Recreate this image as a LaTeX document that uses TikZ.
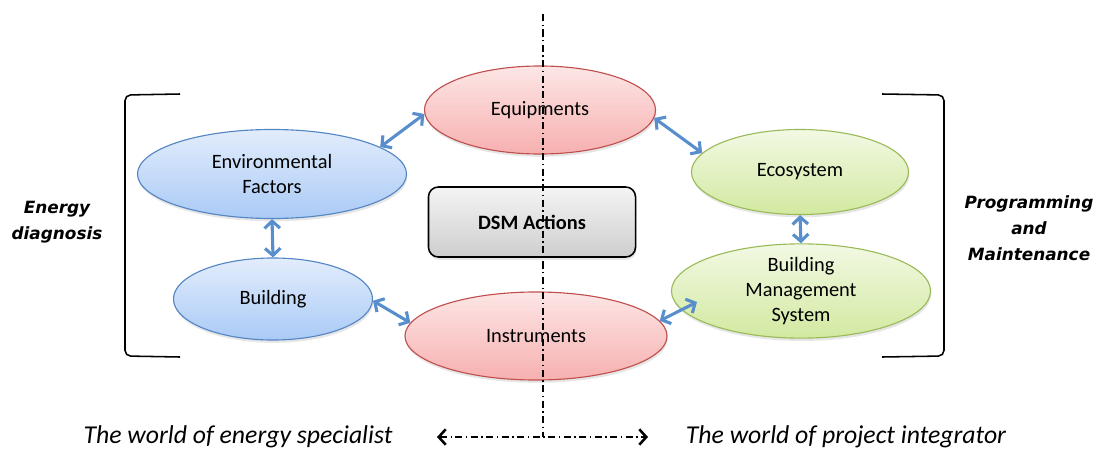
\documentclass[tikz,border=0pt]{standalone}
\usepackage{fontspec}
\setmainfont{Carlito}
\newfontfamily\sidefont{DejaVu Sans}
\usetikzlibrary{%
  shapes.geometric,%
  arrows.meta,%
  shadows%
}
\definecolor{linkblue}{RGB}{88,142,204}
\definecolor{blueline}{RGB}{84,134,196}
\definecolor{bluetop}{RGB}{226,237,252}
\definecolor{bluebot}{RGB}{170,202,246}
\definecolor{redline}{RGB}{192,80,77}
\definecolor{redtop}{RGB}{253,230,230}
\definecolor{redbot}{RGB}{247,176,176}
\definecolor{greenline}{RGB}{155,187,89}
\definecolor{greentop}{RGB}{242,249,228}
\definecolor{greenbot}{RGB}{210,233,160}
\definecolor{boxtop}{RGB}{244,244,244}
\definecolor{boxbot}{RGB}{206,206,206}

\begin{document}
\begin{tikzpicture}[x=0.025cm,y=-0.025cm,
    blob/.style={ellipse,draw,line width=0.8pt,inner sep=0pt,align=center,
      font=\fontsize{14.5}{17.5}\selectfont,
      drop shadow={opacity=0.2,shadow xshift=0.6pt,shadow yshift=-2pt}},
    bluebl/.style={blob,draw=blueline,top color=bluetop,bottom color=bluebot},
    redbl/.style={blob,draw=redline,top color=redtop,bottom color=redbot},
    greenbl/.style={blob,draw=greenline,top color=greentop,bottom color=greenbot},
    actbox/.style={draw,line width=1.1pt,rounded corners=7pt,top color=boxtop,
      bottom color=boxbot,minimum width=5.175cm,minimum height=1.75cm,
      font=\bfseries\fontsize{14.5}{17.5}\selectfont,
      drop shadow={opacity=0.2,shadow xshift=0.6pt,shadow yshift=-2pt}},
    link/.style={linkblue,line width=2.2pt,
      {Straight Barb[length=5pt,width=11pt]}-{Straight Barb[length=5pt,width=11pt]}},
    bracket/.style={line width=1.1pt,rounded corners=4pt},
    side/.style={font=\sidefont\bfseries\itshape\fontsize{12}{18.5}\selectfont,align=center},
    world/.style={font=\itshape\fontsize{18.3}{21}\selectfont},
    dashdot/.style={line width=1pt,dash pattern=on 5pt off 2.5pt on 1pt off 2.5pt}]

    \useasboundingbox (0,0) rectangle (1098,448);

    %% left group
    \node[bluebl,minimum width=6.725cm,minimum height=2.225cm] (env) at (272,174)
      {Environmental\\Factors};
    \node[bluebl,minimum width=4.975cm,minimum height=2.05cm] (bldg) at (273,299)
      {Building};

    %% middle
    \node[redbl,minimum width=5.775cm,minimum height=2.2cm] (equip) at (540,110)
      {Equipments};
    \node[redbl,minimum width=6.55cm,minimum height=2.2cm] (instr) at (536,336)
      {Instruments};
    \node[actbox] (dsm) at (532,222) {DSM Actions};

    %% right group
    \node[greenbl,minimum width=5.425cm,minimum height=2.125cm] (eco) at (800,172)
      {Ecosystem};
    \node[greenbl,minimum width=6.475cm,minimum height=2.025cm] (bms) at (801,291)
      {Building\\Management\\System};
    \coordinate (bmsin) at (697,302);

    %% links
    \draw[link] (env.14) -- (equip.182);
    \draw[link] (equip.-4) -- (eco.169);
    \draw[link] (env.south) -- (bldg.north);
    \draw[link] (eco.south) -- (bms.north);
    \draw[link] (bldg.-1) -- (instr.174);
    \draw[link] (bmsin) -- (instr.7);

    %% brackets
    \draw[bracket] (180,94) -- (125,95) -- (125,356) -- (180,357);
    \draw[bracket] (882,94) -- (944,95) -- (944,356) -- (882,357);

    %% side labels
    \node[side] (diag) at (57,222) {Energy\\diagnosis};
    \node[side] (prog) at (1029,228) {Programming\\and\\Maintenance};

    %% the two worlds
    \node[world] (spec) at (238,437) {The world of energy specialist};
    \node[world] (integ) at (846,437) {The world of project integrator};

    \coordinate (top) at (543,14);
    \coordinate (mid) at (543,437);
    \coordinate (wl) at (437,437);
    \coordinate (wr) at (648,437);
    \draw[dashdot] (top) -- (mid);
    \draw[dashdot,{Straight Barb[length=5pt,width=11pt,line width=1.8pt]}-{Straight Barb[length=5pt,width=11pt,line width=1.8pt]}]
      (wl) -- (wr);

  \end{tikzpicture}
\end{document}
